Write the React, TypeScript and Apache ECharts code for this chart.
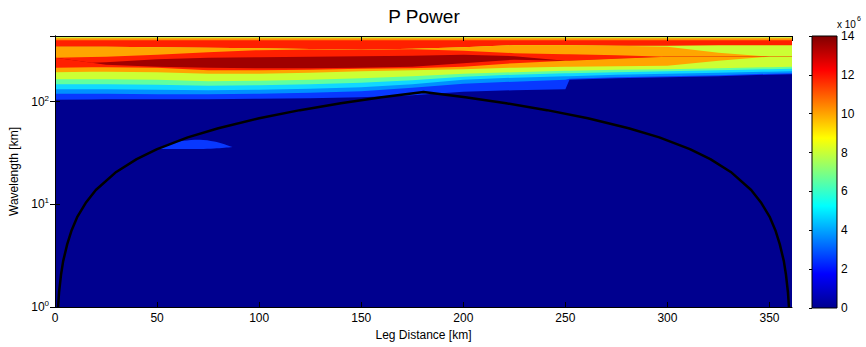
import { useEffect, useRef } from "react";
import * as echarts from "echarts";

const FONT = "'Liberation Sans', Arial, Helvetica, sans-serif";

// Axis extents
const X_MIN = 0;
const X_MAX = 361;
const Y_MIN = 1;
const Y_MAX = 437;
const CBAR_MIN = 0;
const CBAR_MAX = 14;

// Leg distance columns (km) at which the contour band edges were read
const DIST = [0, 18, 25, 50, 75, 100, 125, 150, 175, 200, 225, 250, 252, 275, 300, 325, 350, 361];

// Upper edge (wavelength, km) of each filled contour band, bottom to top
const darkBlueTop = [104.6, 105.2, 105.8, 105.8, 105.8, 107.0, 108.2, 110.6, 115.7, 125.2, 129.5, 132.4, 163.9, 169.6, 173.4, 177.4, 183.4, 185.5];
const blueTop = [119.7, 119.7, 119.7, 118.4, 118.4, 119.7, 122.4, 126.6, 137.0, 149.9, 156.8, 163.9, 167.6, 173.4, 177.4, 181.4, 187.6, 189.7];
const lightBlueTop = [132.4, 132.4, 132.4, 130.9, 129.5, 130.9, 133.9, 138.5, 148.2, 163.9, 171.5, 177.4, 177.4, 183.4, 187.6, 191.9, 196.2, 198.5];
const cyanTop = [148.2, 148.2, 148.2, 146.6, 143.3, 144.9, 148.2, 153.3, 162.1, 175.4, 183.4, 189.7, 189.7, 194.0, 198.5, 203.0, 207.6, 209.9];
const aquaTop = [165.8, 165.8, 165.8, 163.9, 158.5, 160.3, 163.9, 169.6, 177.4, 187.6, 194.0, 200.7, 200.7, 205.3, 207.6, 212.3, 217.1, 219.6];
const yellowLowTop = [194.0, 195.5, 196.2, 194.0, 187.6, 187.6, 191.9, 198.5, 203.0, 207.6, 214.7, 219.6, 219.6, 222.0, 224.5, 251.2, 274.8, 274.8];
const orangeLowTop = [214.7, 216.5, 217.1, 214.7, 203.0, 203.0, 205.3, 209.9, 212.3, 219.6, 237.5, 251.2, 251.2, 262.7, 274.8, 274.8, 274.8, 274.8];
const redLowTop = [268.7, 240.2, 229.6, 219.6, 214.7, 212.3, 212.3, 214.7, 219.6, 237.5, 256.9, 251.2, 251.2, 262.7, 274.8, 274.8, 274.8, 274.8];
const darkRedTop = [268.7, 240.2, 242.9, 259.8, 268.7, 271.7, 274.8, 277.9, 281.0, 287.4, 277.9, 251.2, 251.2, 262.7, 274.8, 274.8, 274.8, 274.8];
const redMidTop = [268.7, 272.5, 274.8, 287.4, 304.0, 318.0, 323.7, 321.5, 325.2, 314.4, 297.2, 290.6, 290.6, 284.2, 274.8, 274.8, 274.8, 274.8];
const orangeUpTop = [343.9, 343.9, 343.9, 340.1, 336.3, 332.7, 326.6, 321.5, 328.8, 340.1, 355.7, 355.7, 355.7, 351.8, 343.9, 300.6, 274.8, 274.8];
const yellowUpTop = [343.9, 343.9, 343.9, 340.1, 336.3, 332.7, 326.6, 321.5, 328.8, 340.1, 355.7, 355.7, 355.7, 351.8, 351.8, 355.7, 355.7, 355.7];
const redTopTop = [398.1, 398.1, 398.1, 398.1, 398.1, 398.1, 398.1, 398.1, 398.1, 398.1, 398.1, 398.1, 398.1, 398.1, 398.1, 398.1, 398.1, 398.1];
const orangeThinTop = [416.4, 416.4, 416.4, 416.4, 416.4, 416.4, 416.4, 416.4, 416.4, 416.4, 416.4, 416.4, 416.4, 416.4, 416.4, 416.4, 416.4, 416.4];

// Small isolated patch (blue) near 50-87 km
const blobDist = [50, 56, 63, 71, 78, 83, 87];
const blobTop = [34.8, 38.8, 41.6, 42.6, 41.0, 38.6, 36.2];
const blobBottom = [34.6, 34.6, 34.6, 34.6, 35.0, 35.6, 36.2];

// Black curve (cone of influence) points
const coiDist = [1.5, 2, 3, 4, 6, 8, 11, 15, 20, 30, 40, 50, 65, 80, 100, 120, 140, 160, 180.5, 201, 221, 241, 261, 281, 296, 311, 321, 331, 341, 346, 350, 353, 355, 357, 358, 359, 359.5];
const coiWave = [1, 1.4, 2.1, 2.8, 4.1, 5.5, 7.6, 10.3, 13.8, 20.7, 27.6, 34.5, 44.9, 55.2, 69, 82.8, 96.6, 110.4, 124.5, 110.4, 96.6, 82.8, 69, 55.2, 44.9, 34.5, 27.6, 20.7, 13.8, 10.3, 7.6, 5.5, 4.1, 2.8, 2.1, 1.4, 1];

// Colorbar ticks
const cbarTicks = [0, 2, 4, 6, 8, 10, 12, 14];

// Colours
const C_DARKBLUE = "#00008f";
const C_BLUE = "#0838ff";
const C_LIGHTBLUE = "#0090ff";
const C_CYAN = "#10d8ff";
const C_AQUA = "#60ffa0";
const C_YELLOWGREEN = "#ccff34";
const C_ORANGE = "#ffa500";
const C_RED = "#ff2000";
const C_DARKRED = "#a00000";
const C_ORANGETHIN = "#ff9000";
const C_TOPSTRIP = "#d4f040";

const JET_STOPS = [
  { offset: 0, color: "#800000" },
  { offset: 0.125, color: "#ff0000" },
  { offset: 0.375, color: "#ffff00" },
  { offset: 0.625, color: "#00ffff" },
  { offset: 0.875, color: "#0000ff" },
  { offset: 1, color: "#00008f" },
];

export default function App() {
  const ref = useRef<HTMLDivElement>(null);

  useEffect(() => {
    document.body.style.margin = "0";
    const chart = echarts.init(ref.current!, null, { renderer: "svg" });

    const layers: { top: number[] | null; color: string }[] = [
      { top: darkBlueTop, color: C_DARKBLUE },
      { top: blueTop, color: C_BLUE },
      { top: lightBlueTop, color: C_LIGHTBLUE },
      { top: cyanTop, color: C_CYAN },
      { top: aquaTop, color: C_AQUA },
      { top: yellowLowTop, color: C_YELLOWGREEN },
      { top: orangeLowTop, color: C_ORANGE },
      { top: redLowTop, color: C_RED },
      { top: darkRedTop, color: C_DARKRED },
      { top: redMidTop, color: C_RED },
      { top: orangeUpTop, color: C_ORANGE },
      { top: yellowUpTop, color: C_YELLOWGREEN },
      { top: redTopTop, color: C_RED },
      { top: orangeThinTop, color: C_ORANGETHIN },
      { top: null, color: C_TOPSTRIP },
    ];

    const bandData: number[][] = [];
    for (let k = layers.length - 1; k >= 0; k--) bandData.push([X_MIN, Y_MIN, k]);

    const renderBand = (_params: any, api: any) => {
      const k = api.value(2);
      const layer = layers[k];
      const pts: number[][] = DIST.map((d, i) =>
        api.coord([d, layer.top ? layer.top[i] : Y_MAX])
      );
      pts.push(api.coord([DIST[DIST.length - 1], Y_MIN]));
      pts.push(api.coord([DIST[0], Y_MIN]));
      return {
        type: "polygon",
        shape: { points: pts },
        style: { fill: layer.color },
      };
    };

    const renderBlob = (_params: any, api: any) => {
      const pts: number[][] = blobDist.map((d, i) => api.coord([d, blobTop[i]]));
      for (let i = blobDist.length - 1; i >= 0; i--) pts.push(api.coord([blobDist[i], blobBottom[i]]));
      return {
        type: "polygon",
        shape: { points: pts, smooth: 0.3 },
        style: { fill: C_BLUE },
      };
    };

    const renderColorbar = (_params: any, api: any) => {
      const p0 = api.coord([0, CBAR_MAX]);
      const p1 = api.coord([1, CBAR_MIN]);
      return {
        type: "rect",
        shape: { x: p0[0], y: p0[1], width: p1[0] - p0[0], height: p1[1] - p0[1] },
        style: {
          fill: new echarts.graphic.LinearGradient(0, 0, 0, 1, JET_STOPS),
          stroke: "#000",
          lineWidth: 1,
        },
      };
    };

    const logLabel = (v: number) => {
      const e = Math.log10(v);
      const r = Math.round(e);
      if (Math.abs(e - r) > 1e-6) return "";
      return `10{sup|${r}}`;
    };

    const axisCommon = {
      axisLine: { show: true, lineStyle: { color: "#000", width: 1 } },
      axisTick: { show: true, inside: true, length: 5, lineStyle: { color: "#000" } },
      splitLine: { show: false },
      z: 10,
    };

    const labelStyle = { color: "#000", fontSize: 12, fontFamily: FONT };

    chart.setOption({
      animation: false,
      backgroundColor: "#fff",
      grid: [
        { left: 55, top: 36, width: 737, height: 271 },
        { left: 812, top: 36, width: 25, height: 272 },
      ],
      xAxis: [
        {
          ...axisCommon,
          gridIndex: 0,
          type: "value",
          position: "bottom",
          min: X_MIN,
          max: X_MAX,
          interval: 50,
          axisLabel: { ...labelStyle, margin: 5, showMaxLabel: false },
          name: "Leg Distance [km]",
          nameLocation: "middle",
          nameGap: 21,
          nameTextStyle: { ...labelStyle },
        },
        {
          ...axisCommon,
          gridIndex: 0,
          type: "value",
          position: "top",
          min: X_MIN,
          max: X_MAX,
          interval: 50,
          axisLabel: { show: false },
        },
        {
          gridIndex: 1,
          type: "value",
          min: 0,
          max: 1,
          show: false,
        },
      ],
      yAxis: [
        {
          ...axisCommon,
          gridIndex: 0,
          type: "log",
          logBase: 10,
          min: Y_MIN,
          max: Y_MAX,
          position: "left",
          axisLabel: {
            ...labelStyle,
            margin: 6,
            showMaxLabel: false,
            formatter: logLabel,
            rich: {
              sup: { fontSize: 8, fontFamily: FONT, color: "#000", padding: [0, 0, 7, 0] },
            },
          },
          name: "Wavelength [km]",
          nameLocation: "middle",
          nameGap: 31,
          nameRotate: 90,
          nameTextStyle: { ...labelStyle },
        },
        {
          ...axisCommon,
          gridIndex: 0,
          type: "log",
          logBase: 10,
          min: Y_MIN,
          max: Y_MAX,
          position: "right",
          axisLabel: { show: false },
        },
        {
          gridIndex: 1,
          type: "value",
          min: CBAR_MIN,
          max: CBAR_MAX,
          interval: cbarTicks[1] - cbarTicks[0],
          position: "right",
          axisLine: { show: false },
          axisTick: { show: true, inside: true, length: 3, lineStyle: { color: "#000" } },
          splitLine: { show: false },
          axisLabel: { ...labelStyle, margin: 4 },
          z: 10,
        },
      ],
      graphic: [
        {
          type: "text",
          x: 424,
          y: 7,
          style: {
            text: "P Power",
            fontSize: 19,
            fontFamily: FONT,
            fill: "#000",
            align: "center",
            verticalAlign: "top",
          },
        },
        {
          type: "text",
          x: 837,
          y: 19,
          style: { text: "x 10", fontSize: 10, fontFamily: FONT, fill: "#000", verticalAlign: "top" },
        },
        {
          type: "text",
          x: 857,
          y: 15,
          style: { text: "6", fontSize: 7, fontFamily: FONT, fill: "#000", verticalAlign: "top" },
        },
      ],
      series: [
        {
          type: "custom",
          name: "bands",
          xAxisIndex: 0,
          yAxisIndex: 0,
          clip: true,
          renderItem: renderBand,
          data: bandData,
          encode: { x: 0, y: 1 },
          silent: true,
          z: 1,
        },
        {
          type: "custom",
          name: "patch",
          xAxisIndex: 0,
          yAxisIndex: 0,
          clip: true,
          renderItem: renderBlob,
          data: [[blobDist[0], blobBottom[0]]],
          encode: { x: 0, y: 1 },
          silent: true,
          z: 2,
        },
        {
          type: "line",
          name: "coi",
          xAxisIndex: 0,
          yAxisIndex: 0,
          data: coiDist.map((d, i) => [d, coiWave[i]]),
          showSymbol: false,
          symbol: "none",
          lineStyle: { color: "#000", width: 2.5 },
          clip: true,
          silent: true,
          z: 3,
        },
        {
          type: "custom",
          name: "colorbar",
          xAxisIndex: 2,
          yAxisIndex: 2,
          renderItem: renderColorbar,
          data: [[0, 0]],
          encode: { x: 0, y: 1 },
          silent: true,
          z: 1,
        },
      ],
    });

    return () => chart.dispose();
  }, []);

  return <div ref={ref} style={{ width: 866, height: 347 }} />;
}
